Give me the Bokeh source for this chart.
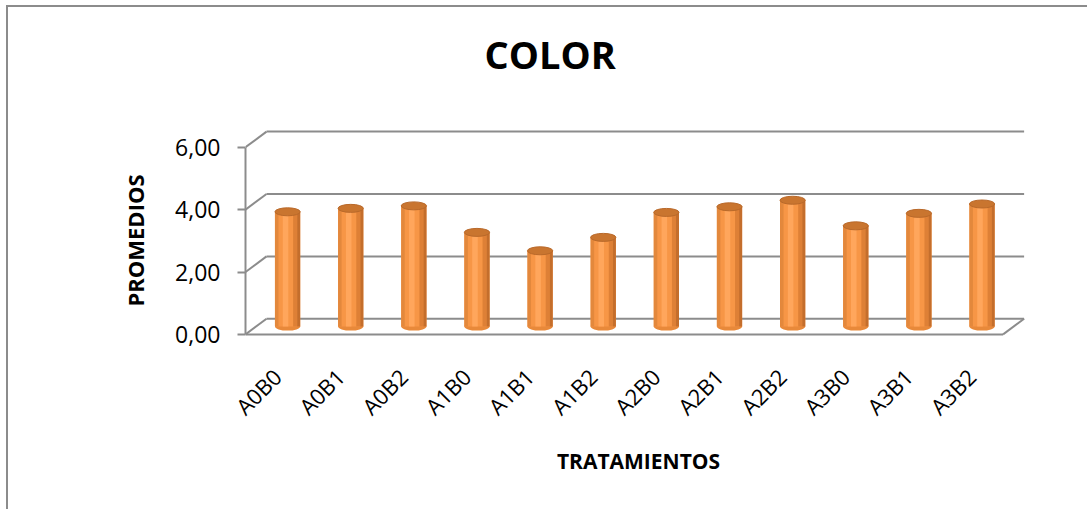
import numpy as np
from bokeh.plotting import figure
from bokeh.models import Range1d, FixedTicker, Title
from bokeh.embed import file_html
from bokeh.resources import INLINE

# ---- data ----
categories = ["A0B0", "A0B1", "A0B2", "A1B0", "A1B1", "A1B2",
              "A2B0", "A2B1", "A2B2", "A3B0", "A3B1", "A3B2"]
promedios = [3.68, 3.79, 3.87, 3.02, 2.43, 2.86, 3.66, 3.84, 4.05, 3.23, 3.63, 3.93]
y_ticks = [0, 2, 4, 6]
y_tick_labels = ["0,00", "2,00", "4,00", "6,00"]

FONT = "Open Sans"
GRID = "#8c8c8c"

# 3D depth offsets (x in category units, y in value units)
DX, DY = 0.333, 0.5
n = len(categories)
xc = np.arange(n) + 0.5           # category centres on the front plane
bar_x = xc + DX / 2               # bars stand at mid depth
base = DY / 2
vals = np.array(promedios)
bar_top = vals + base
BW = 0.40

p = figure(width=1089 - 8, height=511 - 7,
           x_range=Range1d(0, 12.45), y_range=Range1d(-0.58, 6.6),
           output_backend="svg", toolbar_location=None,
           min_border_left=245 - 8, min_border_right=58,
           min_border_top=128 - 7, min_border_bottom=159)

# outer chart-area border (left and top edges visible in the window)
p.styles = {"border-left": "2.5px solid #8c8c8c", "border-top": "2.5px solid #8c8c8c",
            "margin-left": "5.5px", "margin-top": "4.5px"}

p.grid.visible = False
p.outline_line_color = None
p.background_fill_color = "white"
p.border_fill_color = "white"

# ---- walls: back gridlines, side diagonals, floor ----
g = np.array(y_ticks, dtype=float)
p.segment(x0=np.full(len(g), DX), y0=g + DY, x1=np.full(len(g), n + DX), y1=g + DY,
          line_color=GRID, line_width=2)
p.segment(x0=np.zeros(len(g)), y0=g, x1=np.full(len(g), DX), y1=g + DY,
          line_color=GRID, line_width=2)
p.segment(x0=[0, n], y0=[0, 0], x1=[n, n + DX], y1=[0, DY],
          line_color=GRID, line_width=2)

# ---- cylinders ----
p.ellipse(x=bar_x, y=np.full(n, base), width=BW, height=8, height_units="screen",
          fill_color="#E8893A", line_color=None)
p.vbar(x=bar_x, width=BW, bottom=base, top=bar_top,
       fill_color="#F79646", line_color=None)
p.vbar(x=bar_x - BW * 0.43, width=BW * 0.14, bottom=base, top=bar_top,
       fill_color="#E3883C", line_color=None)
p.vbar(x=bar_x - BW * 0.08, width=BW * 0.22, bottom=base, top=bar_top,
       fill_color="#FFA65C", line_color=None)
p.vbar(x=bar_x + BW * 0.30, width=BW * 0.16, bottom=base, top=bar_top,
       fill_color="#DE8036", line_color=None)
p.vbar(x=bar_x + BW * 0.44, width=BW * 0.12, bottom=base, top=bar_top,
       fill_color="#C46E2C", line_color=None)
p.ellipse(x=bar_x, y=bar_top, width=BW, height=8, height_units="screen",
          fill_color="#C9752F", line_color="#B9692A", line_width=1)

# ---- axes ----
xa = p.xaxis[0]
xa.ticker = FixedTicker(ticks=list(xc))
xa.major_label_overrides = {float(x): c for x, c in zip(xc, categories)}
xa.major_label_orientation = np.pi / 4
xa.axis_line_color = None
xa.major_tick_line_color = None
xa.minor_tick_line_color = None
xa.major_label_standoff = 14
xa.major_label_text_font = FONT
xa.major_label_text_font_size = "22px"
xa.major_label_text_color = "black"
xa.axis_label = "TRATAMIENTOS"
xa.axis_label_text_font = FONT
xa.axis_label_text_font_style = "bold"
xa.axis_label_text_font_size = "21px"
xa.axis_label_text_color = "black"
xa.axis_label_standoff = 13

ya = p.yaxis[0]
ya.ticker = FixedTicker(ticks=y_ticks)
ya.major_label_overrides = {t: s for t, s in zip(y_ticks, y_tick_labels)}
ya.bounds = (0, 6)
ya.axis_line_color = GRID
ya.axis_line_width = 2
ya.major_tick_line_color = GRID
ya.major_tick_line_width = 2
ya.major_tick_in = 0
ya.major_tick_out = 8
ya.minor_tick_line_color = None
ya.major_label_standoff = 17
ya.major_label_text_font = FONT
ya.major_label_text_font_size = "23px"
ya.major_label_text_color = "black"
ya.axis_label = "PROMEDIOS"
ya.axis_label_text_font = FONT
ya.axis_label_text_font_style = "bold"
ya.axis_label_text_font_size = "22px"
ya.axis_label_text_color = "black"
ya.axis_label_standoff = 22

# ---- title (with an empty spacer panel between it and the plot) ----
p.add_layout(Title(text=" ", text_font_size="1px", standoff=46), "above")
p.title.text = "COLOR"
p.title.text_font = FONT
p.title.text_font_style = "bold"
p.title.text_font_size = "38px"
p.title.text_color = "black"
p.title.align = "left"
p.title.offset = 239
p.title.standoff = 0

open("out.html", "w").write(file_html(p, INLINE))
